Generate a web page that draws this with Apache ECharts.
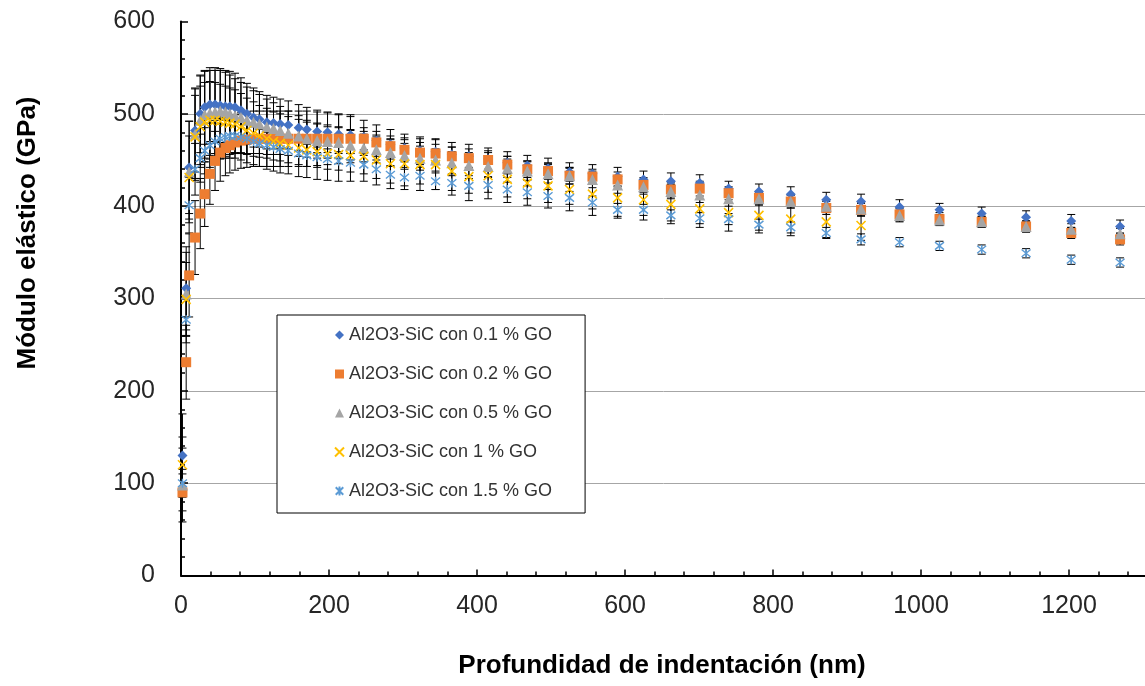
<!DOCTYPE html>
<html>
<head>
<meta charset="utf-8">
<script src="https://cdn.jsdelivr.net/npm/echarts@6/dist/echarts.min.js"></script>
<style>
  html, body { margin: 0; padding: 0; background: #ffffff; }
  #chart { width: 1145px; height: 686px; }
</style>
</head>
<body>
<div id="chart"></div>
<script>
// Indentation depth (nm), shared by all samples
const depth = [2, 7, 11, 19, 26, 32, 39, 46, 53, 60, 66, 73, 81, 89, 98, 106, 116, 125, 134, 145, 159, 170, 184, 198, 213, 229,
  247, 264, 283, 302, 323, 344, 366, 389, 415, 441, 468, 496, 525, 556, 590, 625,
  662, 701, 740, 781, 824, 872, 919, 971, 1025, 1082, 1142, 1203, 1269];

// Elastic modulus (GPa) per GO content
const go01 = [130, 311, 442, 482, 500, 507, 510, 510, 509, 508, 508, 507, 504, 500, 496, 494, 491, 490, 489, 488, 485, 483, 481, 480, 478, 477,
  475, 471, 467, 463, 460, 459, 456, 454, 451, 447, 444, 441, 437, 435, 432, 429,
  427, 425, 419, 416, 413, 407, 405, 399, 396, 392, 388, 384, 378];
const go02 = [90, 231, 325, 366, 392, 413, 435, 449, 458, 463, 466, 469, 471, 472, 473, 473, 473, 473, 473, 473, 473, 473, 473, 473, 473, 473,
  473, 469, 465, 461, 458, 457, 454, 452, 450, 445, 440, 438, 433, 432, 429, 423,
  418, 419, 414, 409, 405, 398, 396, 391, 386, 383, 378, 371, 364];
const go05 = [98, 305, 437, 478, 493, 499, 501, 502, 503, 502, 500, 498, 496, 493, 491, 489, 486, 484, 482, 479, 476, 473, 471, 470, 469, 466,
  463, 461, 458, 455, 452, 450, 447, 444, 443, 441, 438, 435, 433, 429, 423, 421,
  416, 412, 408, 408, 405, 400, 397, 390, 385, 383, 378, 375, 370];
const go10 = [120, 299, 431, 475, 486, 491, 493, 493, 492, 491, 490, 489, 486, 482, 479, 476, 473, 470, 468, 466, 463, 461, 459, 457, 456, 455,
  454, 450, 446, 446, 445, 445, 438, 432, 433, 429, 425, 422, 418, 413, 409, 407,
  402, 397, 393, 390, 386, 383, 379];
const go15 = [100, 277, 401, 440, 452, 460, 466, 470, 473, 475, 476, 476, 475, 473, 470, 468, 466, 464, 462, 460, 457, 455, 453, 451, 449, 447,
  445, 440, 434, 431, 433, 427, 425, 422, 423, 418, 415, 411, 409, 404, 396, 396,
  390, 387, 386, 380, 377, 371, 364, 361, 357, 353, 349, 342, 339];

// Standard deviation (GPa) per GO content
const go01Err = [45, 45, 50, 45, 42, 40, 40, 40, 40, 39, 38, 37, 35, 33, 32, 30, 29, 28, 27, 26, 25, 24, 23, 22, 21, 20,
  18, 17, 16, 15, 15, 14, 13, 13, 12, 12, 11, 11, 10, 10, 10, 9,
  9, 9, 8, 8, 8, 8, 8, 8, 7, 7, 7, 7, 7];
const go02Err = [20, 40, 45, 40, 38, 35, 33, 32, 31, 30, 30, 30, 30, 30, 30, 30, 30, 30, 30, 30, 30, 30, 29, 28, 27, 26,
  12, 12, 11, 11, 11, 10, 10, 10, 10, 9, 9, 9, 9, 8, 8, 8,
  8, 8, 7, 7, 7, 7, 7, 7, 7, 6, 6, 6, 6];
const go05Err = [40, 45, 55, 50, 48, 47, 46, 45, 44, 43, 42, 40, 38, 36, 34, 32, 30, 28, 26, 24, 22, 20, 19, 18, 17, 16,
  15, 14, 14, 13, 13, 12, 12, 11, 11, 10, 10, 10, 9, 9, 9, 8,
  8, 8, 8, 7, 7, 7, 7, 7, 6, 6, 6, 6, 6];
const go10Err = [30, 40, 45, 45, 44, 43, 42, 41, 40, 39, 38, 37, 36, 35, 34, 33, 33, 32, 32, 31, 31, 30, 30, 29, 29, 28,
  27, 27, 27, 28, 28, 27, 26, 26, 25, 25, 24, 24, 23, 23, 22, 22,
  21, 20, 20, 19, 18, 17, 16];
const go15Err = [15, 25, 30, 28, 26, 25, 24, 23, 22, 21, 20, 19, 18, 17, 16, 15, 14, 14, 13, 13, 12, 12, 11, 11, 10, 10,
  10, 10, 9, 9, 9, 9, 8, 8, 8, 8, 7, 7, 7, 7, 7, 6,
  6, 6, 6, 6, 6, 6, 6, 5, 5, 5, 5, 5, 5];

const names = [
  'Al2O3-SiC con 0.1 % GO',
  'Al2O3-SiC con 0.2 % GO',
  'Al2O3-SiC con 0.5 % GO',
  'Al2O3-SiC con 1 % GO',
  'Al2O3-SiC con 1.5 % GO'
];
const xTicks = { min: 0, max: 1400, step: 200 };
const yTicks = { min: 0, max: 600, step: 100 };

const FONT = '"Liberation Sans", Arial, sans-serif';
const crossPath = 'path://M0,0L10,10M10,0L0,10';
const starPath = 'path://M0,0L10,10M10,0L0,10M5,-1L5,11';

const styles = [
  { symbol: 'diamond', size: 10, itemStyle: { color: '#4472C4' } },
  { symbol: 'rect', size: 10, itemStyle: { color: '#ED7D31' } },
  { symbol: 'triangle', size: 11, itemStyle: { color: '#A5A5A5' } },
  { symbol: crossPath, size: 9, itemStyle: { color: '#FFC000', borderColor: '#FFC000', borderWidth: 1.6 } },
  { symbol: starPath, size: 9, itemStyle: { color: '#5B9BD5', borderColor: '#5B9BD5', borderWidth: 1.4 } }
];
const values = [go01, go02, go05, go10, go15];
const errors = [go01Err, go02Err, go05Err, go10Err, go15Err];

function points(vals) {
  return vals.map((v, i) => [depth[i], v]);
}
function errPoints(vals, errs) {
  return vals.map((v, i) => [depth[i], v, errs[i]]);
}

// Black error bars with caps
function errorBars(vals, errs, idx) {
  return {
    type: 'custom',
    name: 'err' + idx,
    silent: true,
    z: 2,
    encode: { x: 0, y: 1 },
    data: errPoints(vals, errs),
    renderItem: function (params, api) {
      const x = api.value(0), y = api.value(1), e = api.value(2);
      const top = api.coord([x, y + e]);
      const bot = api.coord([x, y - e]);
      const hw = 4;
      const st = { stroke: '#000000', lineWidth: 1 };
      return {
        type: 'group',
        children: [
          { type: 'line', shape: { x1: top[0], y1: top[1], x2: bot[0], y2: bot[1] }, style: st },
          { type: 'line', shape: { x1: top[0] - hw, y1: top[1], x2: top[0] + hw, y2: top[1] }, style: st },
          { type: 'line', shape: { x1: bot[0] - hw, y1: bot[1], x2: bot[0] + hw, y2: bot[1] }, style: st }
        ]
      };
    }
  };
}

const series = [];
values.forEach((vals, i) => series.push(errorBars(vals, errors[i], i)));
values.forEach((vals, i) => {
  series.push({
    type: 'scatter',
    name: names[i],
    data: points(vals),
    symbol: styles[i].symbol,
    symbolSize: styles[i].size,
    itemStyle: Object.assign({ opacity: 1 }, styles[i].itemStyle),
    z: 3 + i
  });
});

const chart = echarts.init(document.getElementById('chart'), null, { renderer: 'canvas' });
chart.setOption({
  animation: false,
  backgroundColor: '#ffffff',
  textStyle: { fontFamily: FONT },
  grid: { left: 181, top: 21.5, width: 1036, height: 554, containLabel: false, outerBoundsMode: 'none' },
  xAxis: {
    type: 'value',
    min: xTicks.min, max: xTicks.max, interval: xTicks.step,
    axisLine: { show: true, onZero: false, lineStyle: { color: '#000000', width: 2 } },
    axisTick: { show: true, inside: true, length: 6, lineStyle: { color: '#000000', width: 1.5 } },
    minorTick: { show: true, splitNumber: 5, length: 4, lineStyle: { color: '#000000', width: 1.5 } },
    axisLabel: { fontSize: 25, color: '#262626', margin: 18, fontFamily: FONT, formatter: v => String(v) },
    splitLine: { show: false }
  },
  yAxis: {
    type: 'value',
    min: yTicks.min, max: yTicks.max, interval: yTicks.step,
    axisLine: { show: true, onZero: false, lineStyle: { color: '#000000', width: 2 } },
    axisTick: { show: true, inside: true, length: 7, lineStyle: { color: '#000000', width: 1.5 } },
    minorTick: { show: true, splitNumber: 5, length: 4, lineStyle: { color: '#000000', width: 1.5 } },
    axisLabel: { fontSize: 25, color: '#262626', margin: 26, fontFamily: FONT, formatter: v => String(v) },
    splitLine: { show: true, showMaxLine: false, lineStyle: { color: '#a6a6a6', width: 1 } }
  },
  legend: {
    orient: 'vertical',
    left: 277, top: 315,
    padding: [11, 33, 13, 57],
    itemGap: 21,
    itemWidth: 9, itemHeight: 9,
    borderColor: '#000000', borderWidth: 1,
    backgroundColor: '#ffffff',
    textStyle: { fontSize: 18, color: '#333333', fontFamily: FONT },
    data: names
  },
  graphic: [
    {
      type: 'text', x: 662, y: 666, silent: true,
      style: {
        text: 'Profundidad de indentación (nm)',
        font: 'bold 26px ' + FONT, fill: '#000000',
        align: 'center', verticalAlign: 'middle',
        textAlign: 'center', textVerticalAlign: 'middle'
      }
    },
    {
      type: 'text', x: 28, y: 233, rotation: Math.PI / 2, silent: true,
      style: {
        text: 'Módulo elástico (GPa)',
        font: 'bold 26px ' + FONT, fill: '#000000',
        align: 'center', verticalAlign: 'middle',
        textAlign: 'center', textVerticalAlign: 'middle'
      }
    }
  ],
  series: series
});
</script>
</body>
</html>
